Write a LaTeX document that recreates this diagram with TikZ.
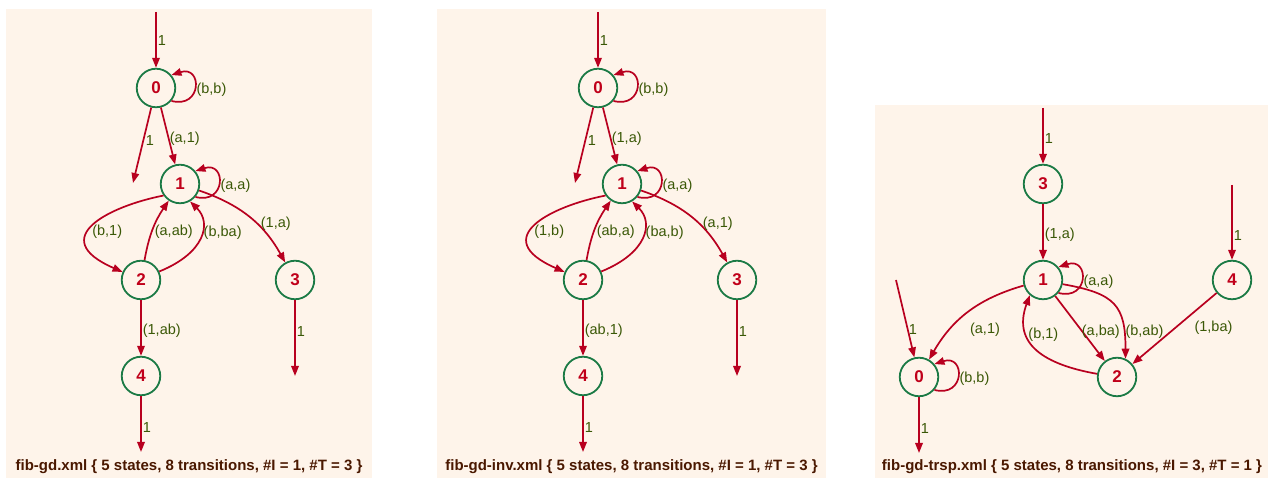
\documentclass[tikz,border=0pt]{standalone}
\usepackage{fontspec}
\setmainfont{Liberation Sans}
\usetikzlibrary{arrows.meta,positioning}

\definecolor{panelbg}{HTML}{FEF4EA}
\definecolor{stategreen}{HTML}{1B7A45}
\definecolor{statered}{HTML}{C0001A}
\definecolor{edgered}{HTML}{B8001F}
\definecolor{lblgreen}{HTML}{3A5806}
\definecolor{capbrown}{HTML}{4A1800}

\tikzset{
  state/.style={circle, draw=stategreen, line width=1.8pt, minimum size=38.5pt, inner sep=0pt,
    text=statered, font=\fontsize{17}{19}\selectfont\bfseries},
  trans/.style={draw=edgered, line width=1.7pt, -{Triangle[length=10pt,width=7.5pt]}},
  lbl/.style={text=lblgreen, inner sep=1pt, yshift=-3pt, font=\fontsize{14.5}{16}\selectfont},
  caption/.style={text=capbrown, inner sep=0pt, font=\fontsize{15}{17}\selectfont\bfseries},
}

\begin{document}
\begin{tikzpicture}[x=1pt,y=1pt]
  \useasboundingbox (0,0) rectangle (1271,478);
  \fill[panelbg] (6,0) rectangle (372,469); % fib-gd
  \fill[panelbg] (437,0) rectangle (826,469); % fib-gd-inv
  \fill[panelbg] (875,0) rectangle (1268,373); % fib-gd-trsp

  % fib-gd
  \node[state] (a0) at (156,390) {0};
  \node[state] (a1) at (180,294) {1};
  \node[state] (a2) at (141,198) {2};
  \node[state] (a3) at (295,198) {3};
  \node[state] (a4) at (141,102) {4};
  \coordinate (ia0) at (156,466);
  \coordinate (fa0) at (133,295);
  \coordinate (fa3) at (295,102);
  \coordinate (fa4) at (141,26);
  \draw[trans] (ia0) -- (a0) node[lbl,pos=0.45,right] {1};
  \draw[trans] (a0) -- (fa0) node[lbl,pos=0.4,right] {1};
  \draw[trans] (a0) -- (a1) node[lbl,pos=0.5,right] {(a,1)};
  \draw[trans] (a0.-40) .. controls +(31,-8) and +(31,10) .. (a0.40) node[lbl,pos=0.5,right] {(b,b)};
  \draw[trans] (a1.-40) .. controls +(31,-8) and +(31,10) .. (a1.40) node[lbl,pos=0.5,right] {(a,a)};
  \draw[trans] (a1.215) .. controls (110,272) and (45,240) .. (a2) node[lbl,pos=0.55,right] {(b,1)};
  \draw[trans] (a2) to[bend left=12] node[lbl,pos=0.5,right] {(a,ab)} (a1);
  \draw[trans] (a2.25) .. controls (205,225) and (212,255) .. (a1.-60) node[lbl,pos=0.6,right] {(b,ba)};
  \draw[trans] (a1) to[bend left=21] node[lbl,pos=0.58,right,xshift=3pt,yshift=2pt] {(1,a)} (a3);
  \draw[trans] (a2) -- (a4) node[lbl,pos=0.5,right] {(1,ab)};
  \draw[trans] (a3) -- (fa3) node[lbl,pos=0.38,right] {1};
  \draw[trans] (a4) -- (fa4) node[lbl,pos=0.5,right] {1};
  \node[caption, anchor=base] (capa) at (189,7.5) {fib-gd.xml \{ 5 states, 8 transitions, \#I = 1, \#T = 3 \}};

  % fib-gd-inv
  \begin{scope}[xshift=442pt]
    \node[state] (b0) at (156,390) {0};
    \node[state] (b1) at (180,294) {1};
    \node[state] (b2) at (141,198) {2};
    \node[state] (b3) at (295,198) {3};
    \node[state] (b4) at (141,102) {4};
    \coordinate (ib0) at (156,466);
    \coordinate (fb0) at (133,295);
    \coordinate (fb3) at (295,102);
    \coordinate (fb4) at (141,26);
    \draw[trans] (ib0) -- (b0) node[lbl,pos=0.45,right] {1};
    \draw[trans] (b0) -- (fb0) node[lbl,pos=0.4,right] {1};
    \draw[trans] (b0) -- (b1) node[lbl,pos=0.5,right] {(1,a)};
    \draw[trans] (b0.-40) .. controls +(31,-8) and +(31,10) .. (b0.40) node[lbl,pos=0.5,right] {(b,b)};
    \draw[trans] (b1.-40) .. controls +(31,-8) and +(31,10) .. (b1.40) node[lbl,pos=0.5,right] {(a,a)};
    \draw[trans] (b1.215) .. controls (110,272) and (45,240) .. (b2) node[lbl,pos=0.55,right] {(1,b)};
    \draw[trans] (b2) to[bend left=12] node[lbl,pos=0.5,right] {(ab,a)} (b1);
    \draw[trans] (b2.25) .. controls (205,225) and (212,255) .. (b1.-60) node[lbl,pos=0.6,right] {(ba,b)};
    \draw[trans] (b1) to[bend left=21] node[lbl,pos=0.58,right,xshift=3pt,yshift=2pt] {(a,1)} (b3);
    \draw[trans] (b2) -- (b4) node[lbl,pos=0.5,right] {(ab,1)};
    \draw[trans] (b3) -- (fb3) node[lbl,pos=0.38,right] {1};
    \draw[trans] (b4) -- (fb4) node[lbl,pos=0.5,right] {1};
    \node[caption, anchor=base] (capb) at (189.5,7.5) {fib-gd-inv.xml \{ 5 states, 8 transitions, \#I = 1, \#T = 3 \}};
  \end{scope}

  % fib-gd-trsp
  \node[state] (c3) at (1043,294) {3};
  \node[state] (c1) at (1043,198) {1};
  \node[state] (c4) at (1232,198) {4};
  \node[state] (c0) at (919,101) {0};
  \node[state] (c2) at (1117,101) {2};
  \coordinate (ic3) at (1043,370);
  \coordinate (ic4) at (1232,293);
  \coordinate (ic0) at (896,198);
  \coordinate (fc0) at (919,25);
  \draw[trans] (ic3) -- (c3) node[lbl,pos=0.5,right] {1};
  \draw[trans] (ic4) -- (c4) node[lbl,pos=0.63,right] {1};
  \draw[trans] (ic0) -- (c0) node[lbl,pos=0.6,right] {1};
  \draw[trans] (c3) -- (c1) node[lbl,pos=0.5,right] {(1,a)};
  \draw[trans] (c1.-40) .. controls +(31,-8) and +(31,10) .. (c1.40) node[lbl,pos=0.5,right] {(a,a)};
  \draw[trans] (c0.-40) .. controls +(31,-8) and +(31,10) .. (c0.40) node[lbl,pos=0.5,right] {(b,b)};
  \draw[trans] (c1) to[bend right=22] node[lbl,pos=0.5,below right,yshift=-6pt] {(a,1)} (c0);
  \draw[trans] (c1) -- (c2) node[lbl,pos=0.5,right] {(a,ba)};
  \draw[trans] (c1.-12) to[out=-10,in=90,looseness=1.4] node[lbl,pos=0.78,right] {(b,ab)} (c2.65);
  \draw[trans] (c2.171) to[out=170,in=-110,looseness=1.3] node[lbl,pos=0.7,right] {(b,1)} (c1.-131);
  \draw[trans] (c4) -- (c2) node[lbl,pos=0.45,right=14pt] {(1,ba)};
  \draw[trans] (c0) -- (fc0) node[lbl,pos=0.5,right] {1};
  \node[caption, anchor=base] (capc) at (1072,7.5) {fib-gd-trsp.xml \{ 5 states, 8 transitions, \#I = 3, \#T = 1 \}};
\end{tikzpicture}
\end{document}
